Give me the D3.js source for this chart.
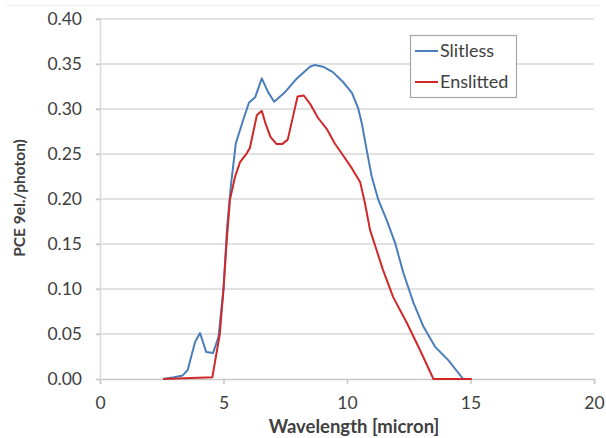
<!DOCTYPE html>
<html>
<head>
<meta charset="utf-8">
<script src="https://cdn.jsdelivr.net/npm/d3@7"></script>
<style>
  body { margin: 0; background: #fff; }
  text { font-family: Lato, "Open Sans", sans-serif; fill: #404040; }
</style>
</head>
<body>
<div id="chart-area"></div>
<script>

// Slitless series (wavelength in micron, PCE)
let slitlessX = [2.55, 3.0, 3.35, 3.55, 3.85, 4.05, 4.3, 4.58, 4.8, 5.0, 5.15, 5.3, 5.5, 5.8, 6.03, 6.28, 6.55, 6.8, 7.05, 7.5, 7.97, 8.5, 8.7, 9.03, 9.43, 9.84, 10.2, 10.45, 10.6, 10.8, 11.0, 11.27, 11.6, 11.95, 12.28, 12.7, 13.1, 13.56, 14.1, 14.7];
let slitlessY = [0, 0.002, 0.004, 0.01, 0.041, 0.051, 0.030, 0.029, 0.047, 0.10, 0.17, 0.215, 0.262, 0.288, 0.307, 0.313, 0.334, 0.319, 0.308, 0.319, 0.334, 0.347, 0.349, 0.347, 0.341, 0.330, 0.318, 0.301, 0.284, 0.254, 0.225, 0.199, 0.177, 0.151, 0.118, 0.084, 0.058, 0.036, 0.021, 0];

// Enslitted series
let enslittedX = [2.55, 4.55, 4.85, 5.0, 5.12, 5.26, 5.47, 5.67, 5.95, 6.07, 6.35, 6.55, 6.7, 6.9, 7.15, 7.37, 7.6, 8.0, 8.25, 8.5, 8.83, 9.2, 9.5, 9.85, 10.2, 10.53, 10.73, 10.93, 11.2, 11.46, 11.87, 12.43, 12.96, 13.5, 15.05];
let enslittedY = [0, 0.002, 0.05, 0.10, 0.15, 0.199, 0.225, 0.241, 0.251, 0.257, 0.293, 0.298, 0.284, 0.269, 0.261, 0.261, 0.266, 0.314, 0.315, 0.306, 0.29, 0.277, 0.262, 0.248, 0.234, 0.219, 0.195, 0.166, 0.143, 0.121, 0.091, 0.062, 0.032, 0, 0];

let xTicks = [0, 5, 10, 15, 20];
let yTicks = [0, 0.05, 0.10, 0.15, 0.20, 0.25, 0.30, 0.35, 0.40];
let seriesNames = ["Slitless", "Enslitted"];
let seriesColors = ["#4a7ebb", "#d02828"];

let series = [
	slitlessX.map((x, i) => ({x: x, y: slitlessY[i]})),
	enslittedX.map((x, i) => ({x: x, y: enslittedY[i]}))
];

// Margin object
let margin = {top: 19, right: 12, bottom: 59, left: 100};

let width = 606 - margin.left - margin.right,
	height = 438 - margin.top - margin.bottom;

let root = d3.select("#chart-area").append("svg")
	.attr("width", 606)
	.attr("height", 438);

// faint frame line at the top
root.append("line")
	.attr("x1", 6).attr("x2", 600)
	.attr("y1", 5.5).attr("y2", 5.5)
	.attr("stroke", "#efefef");

let svg = root.append("g")
	.attr("transform", "translate(" + margin.left + "," + margin.top + ")");

// scales
let xScale = d3.scaleLinear()
	.domain([0, 20])
	.range([0, width]);

let yScale = d3.scaleLinear()
	.domain([0, 0.40])
	.range([height, 0]);

// gridlines
svg.append("g")
	.selectAll("line")
	.data(yTicks.filter(d => d > 0))
	.enter()
	.append("line")
	.attr("x1", -4)
	.attr("x2", width)
	.attr("y1", d => yScale(d))
	.attr("y2", d => yScale(d))
	.attr("stroke", "#d9d9d9")
	.attr("stroke-width", 1.5);

// axes
let xAxis = d3.axisBottom()
	.scale(xScale)
	.tickValues(xTicks)
	.tickSize(5)
	.tickPadding(13)
	.tickFormat(d3.format("d"));

let yAxis = d3.axisLeft()
	.scale(yScale)
	.tickValues(yTicks)
	.tickSize(4)
	.tickPadding(14)
	.tickFormat(d3.format(".2f"));

let gx = svg.append("g")
	.attr("class", "x axis")
	.attr("transform", "translate(0," + height + ")")
	.call(xAxis);

let gy = svg.append("g")
	.attr("class", "y axis")
	.call(yAxis);

[gx, gy].forEach(g => {
	g.select(".domain").attr("stroke", "#c8c8c8").attr("stroke-width", 1.5);
	g.selectAll(".tick line").attr("stroke", "#c8c8c8").attr("stroke-width", 1.5);
	g.selectAll(".tick text")
		.style("font-family", "Lato, 'Open Sans', sans-serif")
		.style("font-size", "17.5px")
		.attr("fill", "#404040");
});

gy.select(".domain").attr("stroke", "#d9d9d9");

// lines
let line = d3.line()
	.x(d => xScale(d.x))
	.y(d => yScale(d.y));

svg.selectAll(".series")
	.data(series)
	.enter()
	.append("path")
	.attr("class", "series")
	.attr("d", line)
	.attr("fill", "none")
	.attr("stroke", (d, i) => seriesColors[i])
	.attr("stroke-width", 2)
	.attr("stroke-linejoin", "round");

// axis titles
root.append("text")
	.attr("x", 354)
	.attr("y", 433)
	.attr("text-anchor", "middle")
	.style("font-weight", "bold")
	.style("font-size", "18.5px")
	.attr("fill", "#262626")
	.text("Wavelength [micron]");

root.append("text")
	.attr("transform", "translate(25,198) rotate(-90)")
	.attr("text-anchor", "middle")
	.style("font-weight", "bold")
	.style("font-size", "15.5px")
	.attr("fill", "#262626")
	.text("PCE 9el./photon)");

// legend
let legend = root.append("g");

legend.append("rect")
	.attr("x", 410.5)
	.attr("y", 35.5)
	.attr("width", 106)
	.attr("height", 62)
	.attr("fill", "#fff")
	.attr("stroke", "#a6a6a6")
	.attr("stroke-width", 1.2);

let items = legend.selectAll(".item")
	.data(seriesNames)
	.enter()
	.append("g")
	.attr("class", "item")
	.attr("transform", (d, i) => "translate(415," + (51 + i * 31) + ")");

items.append("line")
	.attr("x1", 0).attr("x2", 23)
	.attr("stroke", (d, i) => seriesColors[i])
	.attr("stroke-width", 2);

items.append("text")
	.attr("x", 25)
	.attr("dy", "0.35em")
	.style("font-size", "18px")
	.attr("fill", "#262626")
	.text(d => d);

</script>
</body>
</html>
